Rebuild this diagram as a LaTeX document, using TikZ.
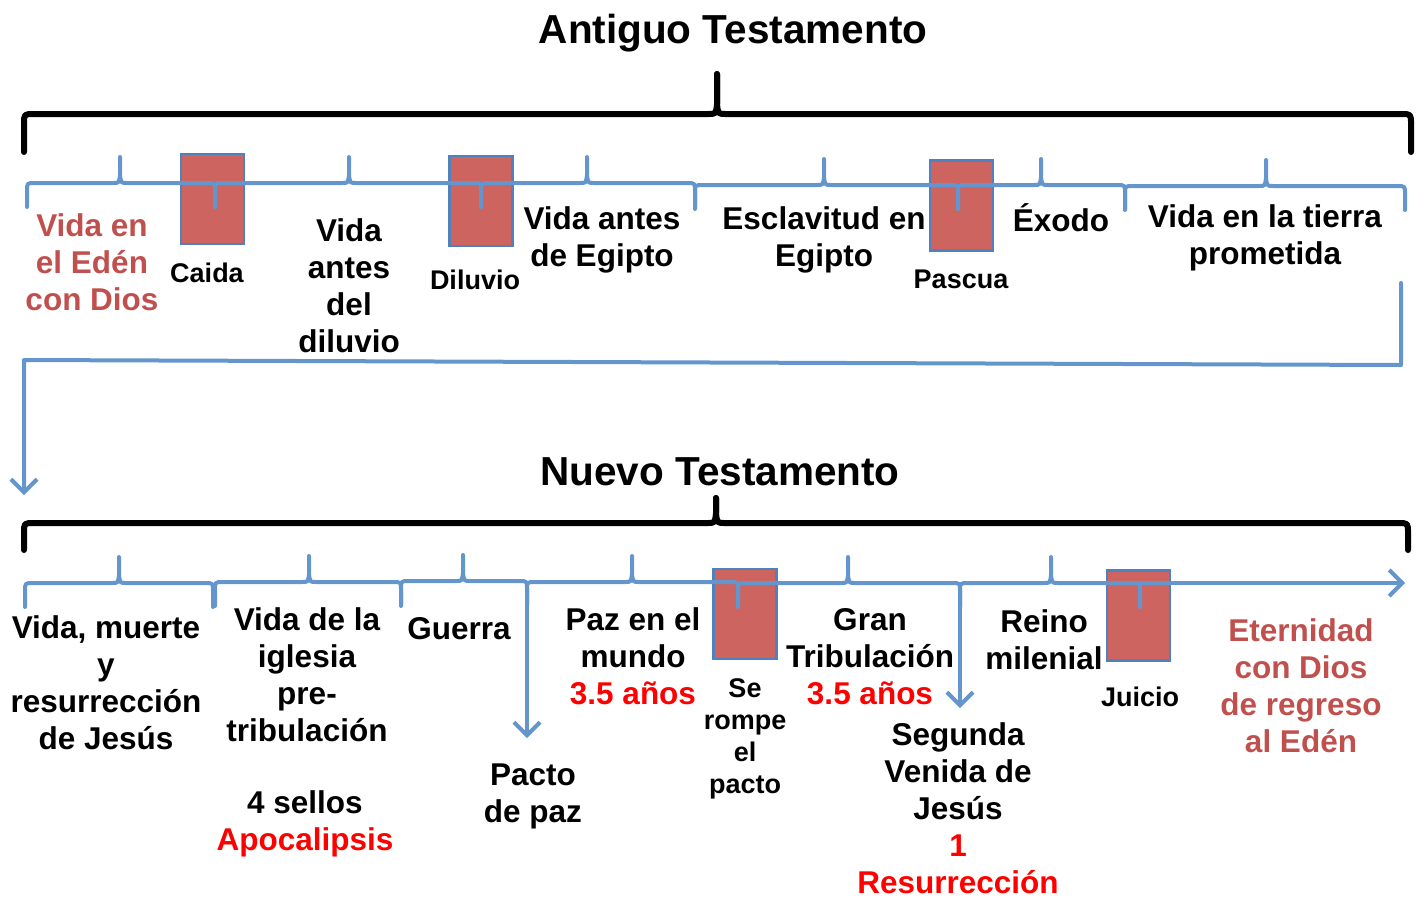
\documentclass[tikz,border=0pt]{standalone}
\usepackage{fontspec}
\setmainfont{Liberation Sans}
\usetikzlibrary{arrows.meta}
\definecolor{tlblue}{RGB}{100,150,205}
\definecolor{boxblue}{RGB}{79,129,189}
\definecolor{boxred}{RGB}{205,100,95}
\definecolor{edenred}{RGB}{192,80,77}

\begin{document}
\begin{tikzpicture}[x=1pt,y=-1pt,
	lbl/.style={font=\bfseries\fontsize{31.5}{37}\selectfont, align=center, inner sep=0pt},
	small/.style={font=\bfseries\fontsize{27}{32}\selectfont, align=center, inner sep=0pt},
	ttl/.style={font=\bfseries\fontsize{40.5}{48}\selectfont, inner sep=0pt},
	tl/.style={color=tlblue, line width=4pt, line cap=round, line join=round},
	bk/.style={line width=6pt, line cap=round, line join=round},
	evt/.style={fill=boxred, draw=boxblue, line width=2.5pt, minimum width=63pt, minimum height=90pt, inner sep=0pt},
	tip/.style={-{Straight Barb[length=13pt,width=26pt]}}]
	\useasboundingbox (0,0) rectangle (1421,898);

	\node[ttl](antiguo) at (733,33) {Antiguo Testamento};
	\node[ttl](nuevo) at (720,472) {Nuevo Testamento};

	\draw[bk] (24,152) -- (24,124) .. controls (24,114) .. (34,114) -- (708,114) .. controls (716,114) .. (717,104) -- (717,74);
	\draw[bk] (717,74) -- (717,104) .. controls (718,114) .. (726,114) -- (1401,114) .. controls (1411,114) .. (1411,124) -- (1411,152);
	\draw[bk] (24,550) -- (24,533) .. controls (24,523) .. (34,523) -- (707,523) .. controls (715,523) .. (716,513) -- (716,498);
	\draw[bk] (716,498) -- (716,513) .. controls (717,523) .. (725,523) -- (1398,523) .. controls (1408,523) .. (1408,533) -- (1408,550);

	\node[evt](caidabox) at (212.5,199) {};
	\node[evt](diluviobox) at (481,201) {};
	\node[evt](pascuabox) at (961.5,205.5) {};
	\node[evt](rompebox) at (745,614) {};
	\node[evt](juiciobox) at (1138.5,615.5) {};

	\foreach \a/\m/\b/\y in {27/120/215/183, 215/349/481/183, 481/587/695/183, 695/824/958/185, 958/1041/1125/185, 1125/1266/1405/186,
		25/119/213/583, 215/309/401/582, 401/463/527/581, 527/632/738/582, 738/848/960/583, 960/1051/1140/583}
		\draw[tl] (\a,\y+24) -- (\a,\y+8) .. controls (\a,\y) .. (\a+8,\y) -- (\m-7,\y) .. controls (\m-1,\y) .. (\m,\y-8) -- (\m,\y-26)
			(\m,\y-26) -- (\m,\y-8) .. controls (\m+1,\y) .. (\m+7,\y) -- (\b-8,\y) .. controls (\b,\y) .. (\b,\y+8) -- (\b,\y+24);

	\coordinate(ret1) at (1401,283);
	\coordinate(ret2) at (1401,365);
	\coordinate(ret3) at (24,360);
	\coordinate(ret4) at (24,495);
	\coordinate(pa1) at (527,605);
	\coordinate(pa2) at (527,738);
	\coordinate(sv1) at (960,605);
	\coordinate(sv2) at (960,708);
	\coordinate(fin1) at (1140,583);
	\coordinate(fin2) at (1405,583);

	\draw[tl,tip] (ret1) -- (ret2) -- (ret3) -- (ret4);
	\draw[tl,tip] (pa1) -- (pa2);
	\draw[tl,tip] (sv1) -- (sv2);
	\draw[tl,tip] (fin1) -- (fin2);

	\node[lbl, color=edenred](eden) at (92,262) {Vida en\\el Edén\\con Dios};
	\node[small](caida) at (207,273) {Caida};
	\node[lbl](antesdil) at (349,286) {Vida\\antes\\del\\diluvio};
	\node[small](diluvio) at (475,280) {Diluvio};
	\node[lbl](antesegi) at (602,240) {Vida antes\\de Egipto};
	\node[lbl](esclav) at (824,240) {Esclavitud en\\Egipto};
	\node[small](pascua) at (961,279) {Pascua};
	\node[lbl](exodo) at (1061,218) {Éxodo};
	\node[lbl](tierra) at (1265,238) {Vida en la tierra\\prometida};

	\node[lbl](jesus) at (106,683) {Vida, muerte\\y\\resurrección\\de Jesús};
	\node[lbl](iglesia) at (307,675) {Vida de la\\iglesia\\pre-\\tribulación};
	\node[lbl](sellos) at (305,824) {4 sellos\\\textcolor{red}{Apocalipsis}};
	\node[lbl](guerra) at (459,629) {Guerra};
	\node[lbl](pactopaz) at (533,796) {Pacto\\de paz};
	\node[lbl](pazmundo) at (633,656) {Paz en el\\mundo\\\textcolor{red}{3.5 años}};
	\node[small](rompe) at (745,739) {Se\\rompe\\el\\pacto};
	\node[lbl](grantrib) at (870,657) {Gran\\Tribulación\\\textcolor{red}{3.5 años}};
	\node[lbl](segunda) at (958,808) {Segunda\\Venida de\\Jesús\\\textcolor{red}{1}\\\textcolor{red}{Resurrección}};
	\node[lbl](reino) at (1044,640) {Reino\\milenial};
	\node[small](juicio) at (1140,697) {Juicio};
	\node[lbl, color=edenred](eternidad) at (1301,686) {Eternidad\\con Dios\\de regreso\\al Edén};
\end{tikzpicture}
\end{document}
